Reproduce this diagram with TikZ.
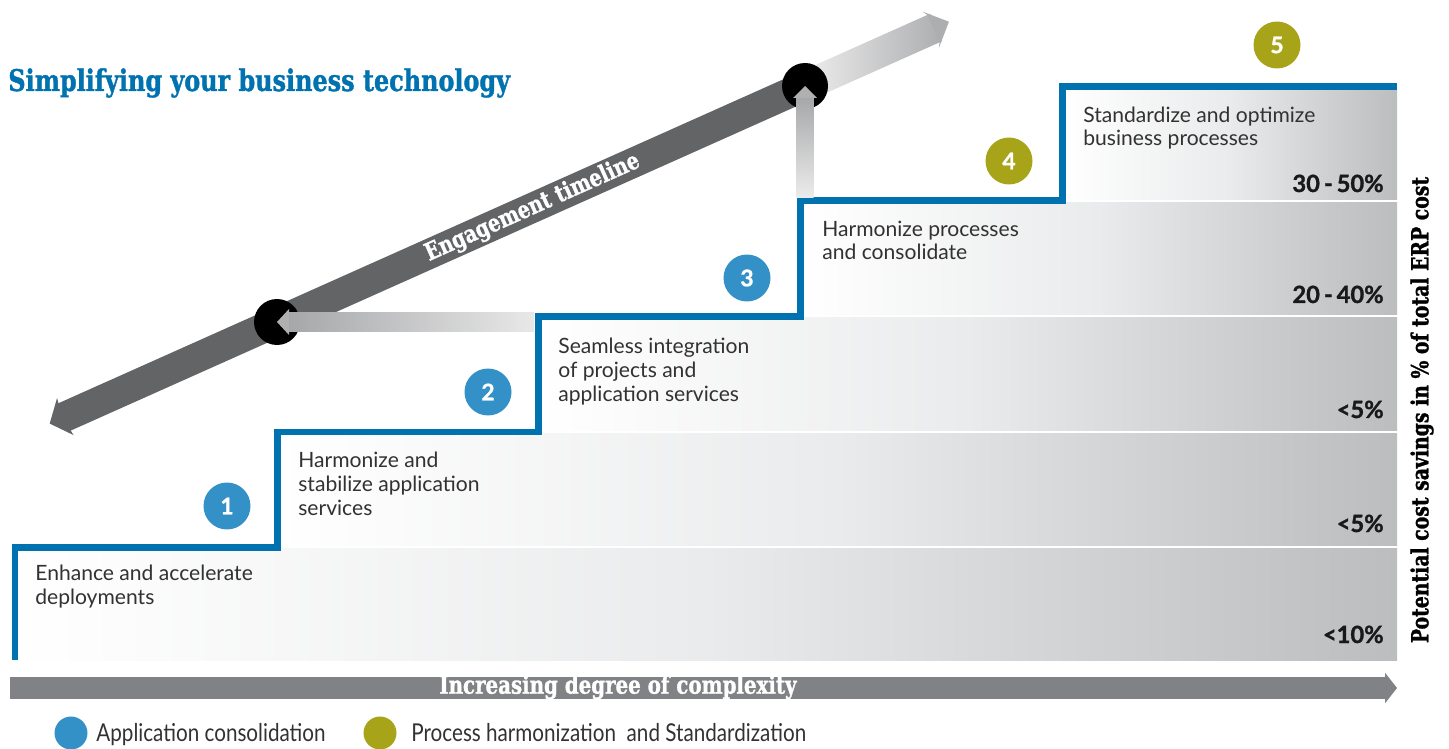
\documentclass[tikz,border=0pt]{standalone}
\usepackage{fontspec}
\setmainfont{Lato}
\newfontfamily\slabfont[FakeStretch=0.8, FakeBold=1.2]{DejaVu Serif}
\newfontfamily\legendfont[FakeStretch=0.84]{Lato}
\newfontfamily\heavyfont[FakeBold=1.2]{Lato}
\usetikzlibrary{arrows.meta,calc}
\definecolor{stepblue}{RGB}{0,114,176}
\definecolor{appblue}{RGB}{52,145,200}
\definecolor{procolive}{RGB}{168,164,26}
\definecolor{bandgray}{RGB}{188,189,191}
\definecolor{bandmid}{RGB}{234,235,236}
\definecolor{timegray}{RGB}{99,100,102}
\definecolor{axisgray}{RGB}{128,130,133}
\definecolor{feedgray}{RGB}{166,167,169}
\definecolor{textgray}{RGB}{50,50,50}
\tikzset{>=latex}
\tikzset{
  band/.style={left color=white, right color=bandgray, middle color=bandmid},
  steptext/.style={anchor=base west, align=left, inner sep=0pt, text=textgray, font=\fontsize{12}{13.6}\selectfont},
  saving/.style={anchor=base east, inner sep=0pt, text=black!90, font=\heavyfont\bfseries\fontsize{13.5}{15}\selectfont},
  stepnum/.style={circle, minimum size=0.94cm, inner sep=0pt, text=white, font=\heavyfont\bfseries\fontsize{13}{14}\selectfont},
  hub/.style={circle, fill=black, minimum size=0.92cm, inner sep=0pt},
  keydot/.style={circle, minimum size=0.66cm, inner sep=0pt},
  keytext/.style={anchor=base west, inner sep=0pt, text=textgray, font=\legendfont\fontsize{14}{16}\selectfont}
}

\begin{document}
\begin{tikzpicture}[x=0.02cm, y=-0.02cm]
        \useasboundingbox (0,0) rectangle (1449,749);

        % saving bands
        \shade[band] (15,548) rectangle (1397,660);
        \shade[band] (277,433) rectangle (1397,545);
        \shade[band] (538,318) rectangle (1397,430);
        \shade[band] (800,203) rectangle (1397,315);
        \shade[band] (1062,90) rectangle (1397,200);

        % staircase
        \draw[stepblue, line width=0.14cm] (15,660) -- (15,547) -- (277,547) -- (277,432) -- (538,432) -- (538,317) -- (800,317) -- (800,201) -- (1062,201) -- (1062,87) -- (1397,87);

        \node[stepnum, fill=appblue] (num1) at (227,506) {1};
        \node[stepnum, fill=appblue] (num2) at (488,392) {2};
        \node[stepnum, fill=appblue] (num3) at (747,278) {3};
        \node[stepnum, fill=procolive] (num4) at (1009,161) {4};
        \node[stepnum, fill=procolive] (num5) at (1277,45) {5};

        % base = last line
        \node[steptext] (step1) at (35,604) {Enhance and accelerate\\deployments};
        \node[steptext] (step2) at (298,515) {Harmonize and\\stabilize application\\services};
        \node[steptext] (step3) at (558,401) {Seamless integration\\of projects and\\application services};
        \node[steptext] (step4) at (822,260) {Harmonize processes\\and consolidate};
        \node[steptext] (step5) at (1083,146) {Standardize and optimize\\business processes};

        \node[saving] (save5) at (1384,192) {30\,-\,50\%};
        \node[saving] (save4) at (1384,303) {20\,-\,40\%};
        \node[saving] (save3) at (1384,418) {<5\%};
        \node[saving] (save2) at (1384,532) {<5\%};
        \node[saving] (save1) at (1384,643) {<10\%};

        % engagement timeline
        \coordinate (hubA) at (277,322);
        \coordinate (hubB) at (805,86);
        \begin{scope}[shift={(hubA)}, rotate=24.08]
            \coordinate (tlend) at (-249,0);
            \draw[timegray, line width=0.6cm, -{Stealth[length=0.34cm, width=0.8cm, inset=0.06cm]}] (578,0) -- (tlend);
            \shade[left color=gray!12, right color=bandgray!92!black] (578,-15) rectangle (722,15);
            \fill[bandgray!92!black] (736,0) -- (716,-20) -- (719,-15) -- (719,15) -- (716,20) -- cycle;
            \node[rotate=24.08, text=white, font=\slabfont\bfseries\fontsize{13.7}{16}\selectfont] (tllabel) at (280,0) {Engagement timeline};
        \end{scope}
        \node[hub] (dotA) at (hubA) {};
        \node[hub] (dotB) at (hubB) {};

        % feeds into the timeline
        \coordinate (feedA) at (534,322);
        \shade[left color=feedgray, right color=gray!18] ($(dotA.center)+(11,-9.5)$) rectangle ($(feedA)+(0,9.5)$);
        \fill[feedgray!90!white] (dotA.center) -- ++(12,-13) -- ++(0,26) -- cycle;
        \coordinate (feedB) at (805,198);
        \shade[top color=feedgray, bottom color=gray!15] ($(dotB.center)+(-8.5,11)$) rectangle ($(feedB)+(8.5,0)$);
        \fill[feedgray!90!white] (dotB.center) -- ++(-12,12) -- ++(24,0) -- cycle;

        % complexity axis
        \coordinate (axisstart) at (10,688);
        \coordinate (axisend) at (1397,688);
        \draw[axisgray, line width=0.44cm, -{Triangle[length=0.24cm, width=0.6cm]}] (axisstart) -- (axisend);
        \node[text=white, font=\slabfont\bfseries\fontsize{14.1}{16}\selectfont] (axislabel) at (618,687) {Increasing degree of complexity};

        \node[anchor=base west, inner sep=0pt, text=stepblue, font=\slabfont\bfseries\fontsize{17}{19}\selectfont] (title) at (8,91) {Simplifying your business technology};
        \node[rotate=90, font=\slabfont\bfseries\fontsize{13.4}{15}\selectfont] (savingaxis) at (1422,410) {Potential cost savings in \% of total ERP cost};

        % legend
        \node[keydot, fill=appblue] (keyapp) at (71,733) {};
        \node[keytext] (keyapptext) at (96,741) {Application consolidation};
        \node[keydot, fill=procolive] (keyproc) at (380,733) {};
        \node[keytext] (keyproctext) at (411,741) {Process harmonization\ \ and Standardization};
\end{tikzpicture}
\end{document}
